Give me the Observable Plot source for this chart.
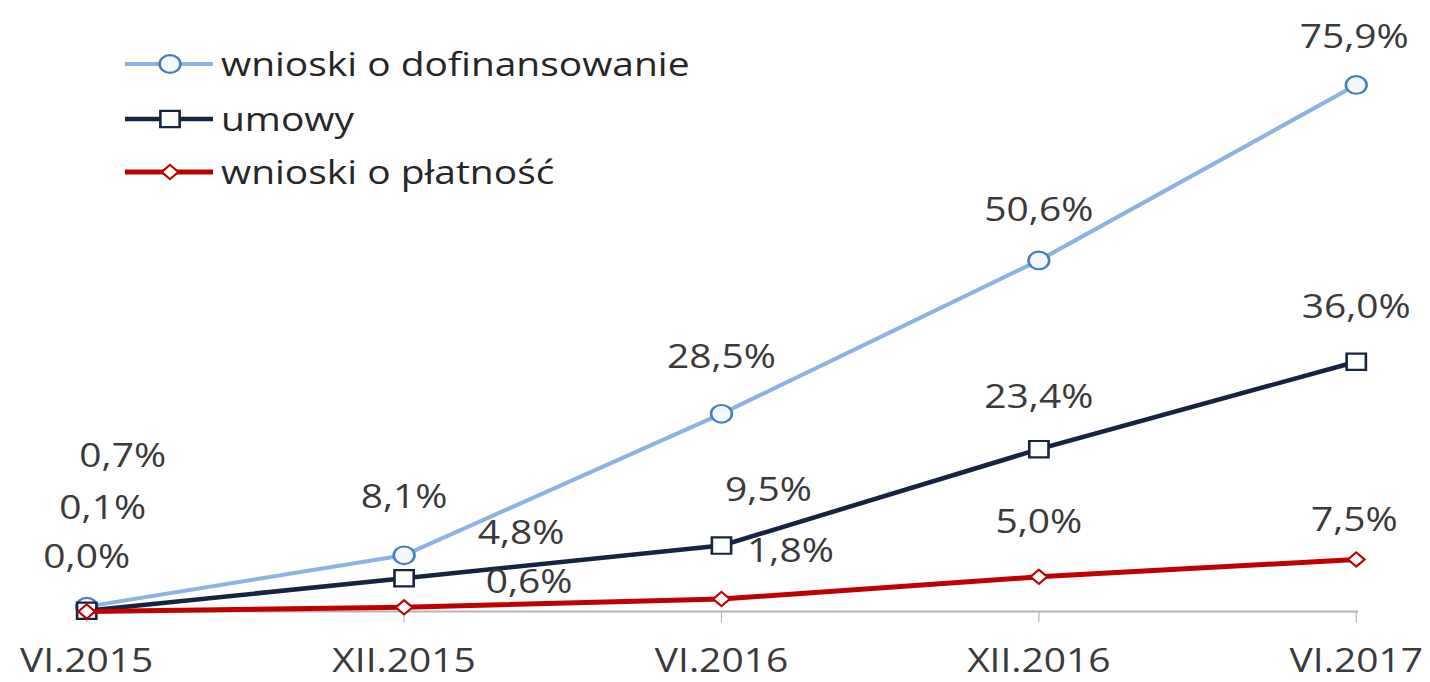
<!DOCTYPE html>
<html>
<head>
<meta charset="utf-8">
<script src="https://cdn.jsdelivr.net/npm/d3@7"></script>
<script src="https://cdn.jsdelivr.net/npm/@observablehq/plot@0.6"></script>
<style>
  html, body { margin: 0; padding: 0; background: #fff; }
  #wrap { position: relative; width: 1430px; height: 682px; overflow: hidden; background: #fff; }
  #stage { position: absolute; left: 0; top: 0; width: 1212px; height: 682px; transform-origin: 0 0; }
  #legend { position: absolute; left: 0; top: 0; }
</style>
</head>
<body>
<div id="wrap"><div id="stage"><div id="chart"></div><svg id="legend" width="660" height="210"></svg></div></div>
<script>
// ---- data ----
const categories = ["VI.2015", "XII.2015", "VI.2016", "XII.2016", "VI.2017"];
const seriesNames = ["wnioski o dofinansowanie", "umowy", "wnioski o płatność"];
const wnioskiDofinansowanie = [0.7, 8.1, 28.5, 50.6, 75.9];
const umowy = [0.1, 4.8, 9.5, 23.4, 36.0];
const wnioskiPlatnosc = [0.0, 0.6, 1.8, 5.0, 7.5];

// ---- label placement (screen-pixel offsets from each point) ----
const labelOffsets = [
  [[36, -150], [0, -58], [0, -56], [0, -50], [-2, -48]],
  [[16, -102], [117, -45], [47, -55], [0, -52], [0, -54]],
  [[0, -54], [125, -25], [69, -48], [0, -54], [-2, -39]]
];

// the reference is horizontally stretched; draw narrower and stretch
const BASE_W = 1212;
const K = 1430 / BASE_W;
document.getElementById("stage").style.transform = `scaleX(${K})`;

// ---- styles ----
const styles = [
  {line: "#8db3e2", width: 4, symbol: "circle", r: 8.8, mStroke: "#4a7ebb", mFill: "#f3f8fd", mWidth: 2.2},
  {line: "#17243f", width: 4.5, symbol: "square", r: 9.2, mStroke: "#17243f", mFill: "#ffffff", mWidth: 2.2},
  {line: "#c00000", width: 5, symbol: "diamond2", r: 6.4, mStroke: "#c00000", mFill: "#ffffff", mWidth: 2}
];

const allValues = [wnioskiDofinansowanie, umowy, wnioskiPlatnosc];
const fmt = v => d3.format(".1f")(v).replace(".", ",") + "%";
const FONT = "'Open Sans', sans-serif";

const seriesMarks = [];
const labelMarks = [];
allValues.forEach((vals, s) => {
  const rows = categories.map((c, i) => ({cat: c, v: vals[i], dx: labelOffsets[s][i][0] / K, dy: labelOffsets[s][i][1]}));
  const st = styles[s];
  seriesMarks.push(Plot.line(rows, {x: "cat", y: "v", stroke: st.line, strokeWidth: st.width, strokeLinejoin: "round"}));
  seriesMarks.push(Plot.dot(rows, {x: "cat", y: "v", symbol: st.symbol, r: st.r, stroke: st.mStroke, fill: st.mFill, strokeWidth: st.mWidth}));
  rows.forEach(d => {
    labelMarks.push(Plot.text([d], {x: "cat", y: "v", text: d => fmt(d.v), dx: d.dx, dy: d.dy, fill: "#3a3a3a"}));
  });
});

const chart = Plot.plot({
  width: BASE_W,
  height: 682,
  marginLeft: 84 / K,
  marginRight: 72 / K,
  marginTop: 56,
  marginBottom: 71,
  x: {type: "point", domain: categories, padding: 0, axis: null},
  y: {domain: [0, 80], axis: null},
  style: {fontFamily: FONT, fontSize: "33px", color: "#3a3a3a", background: "white", overflow: "visible"},
  marks: [
    Plot.ruleY([0], {stroke: "#b5b5b5", strokeWidth: 2}),
    Plot.axisX({tickSize: 11, tickPadding: 26, stroke: "#b5b5b5", fill: "#3a3a3a", fontSize: 33, label: null}),
    ...seriesMarks,
    ...labelMarks
  ]
});
document.getElementById("chart").appendChild(chart);

// ---- legend ----
const lg = d3.select("#legend");
const rowsY = [64, 119, 172];
const symbolPath = {
  circle: d3.symbol(d3.symbolCircle, Math.PI * 8.8 * 8.8)(),
  square: d3.symbol(d3.symbolSquare, Math.PI * 9.2 * 9.2)(),
  diamond2: d3.symbol(d3.symbolDiamond2, Math.PI * 6.4 * 6.4)()
};
seriesNames.forEach((name, i) => {
  const st = styles[i];
  const g = lg.append("g").attr("transform", `translate(0,${rowsY[i]})`);
  g.append("line").attr("x1", 125 / K).attr("x2", 213 / K).attr("y1", 0).attr("y2", 0)
    .attr("stroke", st.line).attr("stroke-width", st.width);
  g.append("path").attr("d", symbolPath[st.symbol]).attr("transform", `translate(${170 / K},0)`)
    .attr("fill", st.mFill).attr("stroke", st.mStroke).attr("stroke-width", st.mWidth);
  g.append("text").attr("x", 221 / K).attr("y", 0).attr("dy", "0.35em")
    .attr("font-family", FONT).attr("font-size", 33)
    .attr("fill", "#262626").text(name);
});
</script>
</body>
</html>
